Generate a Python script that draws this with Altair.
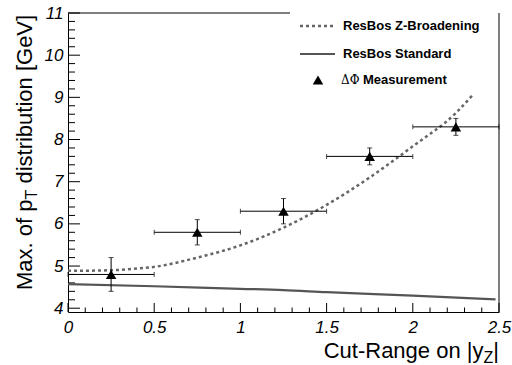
import altair as alt
import pandas as pd

# ---- data ----
meas_x = [0.25, 0.75, 1.25, 1.75, 2.25]
meas_y = [4.8, 5.8, 6.3, 7.6, 8.3]
meas_xlo = [0.0, 0.5, 1.0, 1.5, 2.0]
meas_xhi = [0.5, 1.0, 1.5, 2.0, 2.5]
meas_ylo = [4.4, 5.5, 6.0, 7.4, 8.1]
meas_yhi = [5.2, 6.1, 6.6, 7.8, 8.5]

std_x = [0.0, 0.5, 1.0, 1.25, 1.5, 2.0, 2.48]
std_y = [4.57, 4.52, 4.46, 4.43, 4.38, 4.30, 4.21]

zb_x = [0.0, 0.1, 0.25, 0.4, 0.5, 0.75, 1.0, 1.25, 1.5, 1.75, 2.0, 2.25, 2.35]
zb_y = [4.89, 4.89, 4.90, 4.94, 4.98, 5.20, 5.49, 5.91, 6.45, 7.10, 7.84, 8.63, 9.07]

x_major = [0, 0.5, 1, 1.5, 2, 2.5]
x_labels = ["0", "0.5", "1", "1.5", "2", "2.5"]
x_minor = [round(i * 0.1, 1) for i in range(26) if i % 5 != 0]
y_major = [4, 5, 6, 7, 8, 9, 10, 11]
y_labels = ["4", "5", "6", "7", "8", "9", "10", "11"]
y_minor = [round(4 + i * 0.2, 1) for i in range(36) if i % 5 != 0]

legend_labels = ["ResBos Z-Broadening", "ResBos Standard", "Measurement"]

W, H = 431, 299
FONT = "Liberation Sans"

meas = pd.DataFrame({"x": meas_x, "y": meas_y, "xlo": meas_xlo, "xhi": meas_xhi,
                     "ylo": meas_ylo, "yhi": meas_yhi})
std = pd.DataFrame({"x": std_x, "y": std_y})
zb = pd.DataFrame({"x": zb_x, "y": zb_y})
one = pd.DataFrame({"a": [0]})

xs = alt.Scale(domain=[0, 2.5], nice=False, zero=False)
ys = alt.Scale(domain=[3.91, 11], nice=False, zero=False)


def lab_expr(vals, labs):
    v = "[" + ",".join(str(a) for a in vals) + "]"
    l = "[" + ",".join("'" + s + "'" for s in labs) + "]"
    return f"{l}[indexof({v}, datum.value)]"


ax_x = alt.Axis(title=None, values=x_major, labelExpr=lab_expr(x_major, x_labels),
                ticks=False, tickSize=0, grid=False, domain=True, domainColor="black",
                domainWidth=1, labelFont=FONT, labelFontStyle="italic", labelFontSize=17,
                labelColor="black", labelPadding=7, labelFlush=False, labelOverlap=False)
ax_y = alt.Axis(title=None, values=y_major, labelExpr=lab_expr(y_major, y_labels),
                ticks=False, tickSize=0, grid=False, domain=True, domainColor="black",
                domainWidth=1, labelFont=FONT, labelFontStyle="italic", labelFontSize=17,
                labelColor="black", labelPadding=5, labelFlush=False, labelOverlap=False)

X = lambda f: alt.X(f, type="quantitative", scale=xs, axis=ax_x)
Y = lambda f: alt.Y(f, type="quantitative", scale=ys, axis=ax_y)

# curves
zb_line = alt.Chart(zb).mark_line(color="#666666", strokeWidth=2.5, strokeDash=[3, 3],
                                  interpolate="monotone").encode(x=X("x"), y=Y("y"))
std_line = alt.Chart(std).mark_line(color="#555555", strokeWidth=2.2,
                                    interpolate="monotone").encode(x=X("x"), y=Y("y"))

# error bars
herr = alt.Chart(meas).mark_rule(color="black", strokeWidth=1).encode(
    x=X("xlo"), x2="xhi", y=Y("y"))
verr = alt.Chart(meas).mark_rule(color="black", strokeWidth=1).encode(
    x=X("x"), y=Y("ylo"), y2="yhi")
hcap_lo = alt.Chart(meas).mark_tick(color="black", orient="vertical", size=5, thickness=1).encode(
    x=X("xlo"), y=Y("y"))
hcap_hi = alt.Chart(meas).mark_tick(color="black", orient="vertical", size=5, thickness=1).encode(
    x=X("xhi"), y=Y("y"))
vcap_lo = alt.Chart(meas).mark_tick(color="black", orient="horizontal", size=5, thickness=1).encode(
    x=X("x"), y=Y("ylo"))
vcap_hi = alt.Chart(meas).mark_tick(color="black", orient="horizontal", size=5, thickness=1).encode(
    x=X("x"), y=Y("yhi"))
pts = alt.Chart(meas).mark_point(shape="triangle-up", filled=True, color="black",
                                 opacity=1, size=110).encode(x=X("x"), y=Y("y"))

# inward ticks (ROOT style)
xt_major = alt.Chart(pd.DataFrame({"v": x_major})).mark_rule(color="black", strokeWidth=1).encode(
    x=X("v"), y=alt.value(H), y2=alt.value(H - 9))
xt_minor = alt.Chart(pd.DataFrame({"v": x_minor})).mark_rule(color="black", strokeWidth=1).encode(
    x=X("v"), y=alt.value(H), y2=alt.value(H - 4.5))
yt_major = alt.Chart(pd.DataFrame({"v": y_major})).mark_rule(color="black", strokeWidth=1).encode(
    y=Y("v"), x=alt.value(0), x2=alt.value(12))
yt_minor = alt.Chart(pd.DataFrame({"v": y_minor})).mark_rule(color="black", strokeWidth=1).encode(
    y=Y("v"), x=alt.value(0), x2=alt.value(7))

# frame parts
right_frame = alt.Chart(one).mark_rule(color="black", strokeWidth=1).encode(
    x=alt.value(W), y=alt.value(0), y2=alt.value(H))
top_frame = alt.Chart(one).mark_rule(color="black", strokeWidth=1).encode(
    y=alt.value(0), x=alt.value(0), x2=alt.value(222))

# legend
leg_dot = alt.Chart(one).mark_rule(color="#666666", strokeWidth=2.5, strokeDash=[3, 3]).encode(
    x=alt.value(232), x2=alt.value(267), y=alt.value(13))
leg_sol = alt.Chart(one).mark_rule(color="#555555", strokeWidth=2.2).encode(
    x=alt.value(232), x2=alt.value(267), y=alt.value(41))
leg_tri = alt.Chart(one).mark_point(shape="triangle-up", filled=True, color="black",
                                    opacity=1, size=110).encode(x=alt.value(250), y=alt.value(67))


def txt(s, x, y, size=13, bold=True, font=FONT, align="left", baseline="middle", angle=0):
    kw = dict(text=s, font=font, fontSize=size, fontWeight="bold" if bold else "normal",
              align=align, baseline=baseline, color="black")
    if angle:
        kw["angle"] = angle
    return alt.Chart(one).mark_text(**kw).encode(x=alt.value(x), y=alt.value(y))


leg_t1 = txt(legend_labels[0], 275, 13)
leg_t2 = txt(legend_labels[1], 275, 41)
leg_t3a = txt("\u0394\u03a6", 273, 67, size=12, bold=False, font="DejaVu Serif")
leg_t3b = txt(legend_labels[2], 295, 67)

# axis titles with subscripts
yt1 = txt("Max. of p", -36, 277, size=22, bold=False, align="left", baseline="alphabetic", angle=270)
yt2 = txt("T", -31, 186.5, size=16, bold=False, align="left", baseline="alphabetic", angle=270)
yt3 = txt("distribution [GeV]", -36, 170.6, size=22, bold=False, align="left",
          baseline="alphabetic", angle=270)

xt1 = txt("|", W, 345, size=22, bold=False, align="right", baseline="alphabetic")
xt2 = txt("Z", W - 5.7, 350, size=16, bold=False, align="right", baseline="alphabetic")
xt3 = txt("Cut-Range on |y", W - 5.7 - 9.8, 345, size=22, bold=False, align="right",
          baseline="alphabetic")

chart = alt.layer(
    xt_minor, xt_major, yt_minor, yt_major,
    std_line, zb_line,
    herr, verr, hcap_lo, hcap_hi, vcap_lo, vcap_hi, pts,
    right_frame, top_frame,
    leg_dot, leg_sol, leg_tri, leg_t1, leg_t2, leg_t3a, leg_t3b,
    yt1, yt2, yt3, xt1, xt2, xt3,
).properties(
    width=W, height=H,
    padding={"left": 68, "top": 13, "right": 13, "bottom": 53},
    autosize=alt.AutoSizeParams(type="none"),
    background="white",
).configure_view(stroke=None)

chart.save("out.html", embed_options={"renderer": "svg", "actions": False})
